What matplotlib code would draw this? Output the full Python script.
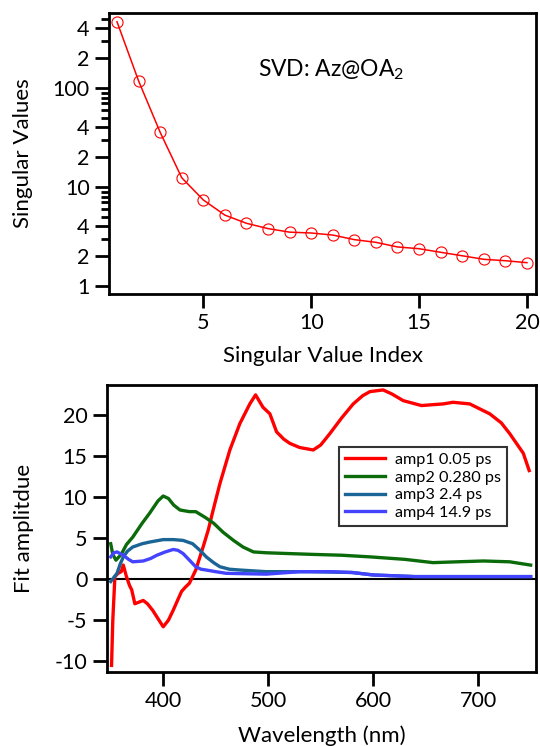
import numpy as np
import matplotlib
matplotlib.use('Agg')
import matplotlib.pyplot as plt
from matplotlib.ticker import FixedLocator, FixedFormatter, NullFormatter

plt.rcParams['font.family'] = ['Lato', 'DejaVu Sans']
plt.rcParams['axes.unicode_minus'] = False

# --- datos: valores singulares ---
sv_index = list(range(1, 21))
sv_values = [467, 118, 35.7, 12.4, 7.4, 5.2, 4.3, 3.8, 3.5, 3.43,
             3.27, 2.94, 2.76, 2.48, 2.38, 2.19, 2.02, 1.86, 1.80, 1.72]

# --- datos: amplitudes del ajuste ---
wl_amp1 = [350.8, 352, 354, 357, 360, 362, 365, 368, 370, 373, 377, 381, 385, 390,
           395, 400, 405, 409.5, 414, 417.5, 421, 425, 431, 438, 443, 447.6, 454,
           463.5, 473, 482.5, 488, 495, 501.6, 508, 515, 520.7, 530, 542.9, 550,
           558.8, 570, 581, 590, 597, 609.5, 618, 628.6, 646, 656, 666.7, 676, 692,
           711, 722, 730, 743, 748.6]
amp1 = [-10.5, -5.0, 0.3, 0.7, 0.9, 1.7, 0.3, -0.8, -1.3, -3.0, -2.8, -2.6, -3.0, -3.8,
        -4.8, -5.8, -5.0, -3.8, -2.5, -1.5, -1.0, -0.5, 1.1, 3.9, 6.0, 8.4, 11.6,
        15.7, 18.9, 21.3, 22.4, 20.9, 20.1, 17.9, 17.0, 16.5, 16.0, 15.7, 16.3,
        17.7, 19.6, 21.3, 22.3, 22.8, 23.0, 22.5, 21.7, 21.1, 21.2, 21.3, 21.5, 21.3,
        20.1, 19.0, 17.7, 15.3, 13.2]

wl_amp2 = [350, 352, 355, 360, 365, 371, 380, 387, 395, 400, 405, 410, 416, 425, 431,
           440, 448, 457, 467, 476, 486, 498, 520, 543, 570, 597, 630, 657, 680, 705,
           730, 750]
amp2 = [4.3, 3.0, 2.3, 3.0, 4.2, 5.1, 6.8, 8.0, 9.5, 10.1, 9.8, 9.0, 8.4, 8.2, 8.2,
        7.5, 6.8, 5.7, 4.7, 3.9, 3.3, 3.2, 3.1, 3.0, 2.9, 2.7, 2.4, 2.0, 2.1, 2.2,
        2.1, 1.7]

wl_amp3 = [350, 353, 356, 359, 362, 366, 371, 380, 387, 400, 410, 419, 428, 435, 441,
           448, 454, 463, 473, 498, 540, 580, 600, 640, 750]
amp3 = [-0.3, 0.2, 0.7, 1.8, 2.7, 3.4, 3.9, 4.3, 4.5, 4.8, 4.8, 4.7, 4.3, 3.5, 2.7,
        2.0, 1.5, 1.2, 1.1, 0.9, 0.9, 0.8, 0.5, 0.3, 0.3]

wl_amp4 = [350, 353, 356, 359, 362, 367, 371, 381, 388, 394, 402, 409.5, 414, 419,
           425, 431, 436, 441, 450, 460, 498, 530, 560, 580, 600, 640, 750]
amp4 = [2.7, 3.2, 3.3, 3.1, 2.9, 2.4, 2.1, 2.2, 2.5, 2.9, 3.3, 3.6, 3.5, 3.1,
        2.3, 1.5, 1.2, 1.1, 0.9, 0.7, 0.6, 0.9, 0.9, 0.8, 0.5, 0.3, 0.3]

etiquetas = ['amp1 0.05 ps', 'amp2 0.280 ps', 'amp3 2.4 ps', 'amp4 14.9 ps']
colores = ['#ff0000', '#0b6b0b', '#1a6496', '#4444ff']

fig = plt.figure(figsize=(5.4, 7.46), dpi=100)

# ---------- panel superior ----------
ax1 = fig.add_axes([0.2019, 0.6059, 0.7907, 0.3767])
ax1.plot(sv_index, sv_values, color='red', lw=1.1, marker='o', ms=8,
         mfc='none', mec='red', mew=0.8)
ax1.set_yscale('log')
ax1.set_xlim(0.63, 20.42)
ax1.set_ylim(0.83, 573)
ax1.yaxis.set_major_locator(FixedLocator([1, 2, 4, 10, 20, 40, 100, 200, 400]))
ax1.yaxis.set_major_formatter(FixedFormatter(['1', '2', '4', '10', '2', '4', '100', '2', '4']))
menores = [v * d for d in (1, 10, 100) for v in (3, 5, 6, 7, 8, 9)]
ax1.yaxis.set_minor_locator(FixedLocator(menores))
ax1.yaxis.set_minor_formatter(NullFormatter())
ax1.set_xticks([5, 10, 15, 20])
ax1.tick_params(axis='both', which='major', direction='out', length=10, width=2,
                labelsize=15.5, pad=4)
ax1.tick_params(axis='y', which='minor', direction='out', length=6, width=2)
ax1.set_xlabel('Singular Value Index', fontsize=16, labelpad=9)
ax1.set_ylabel('Singular Values', fontsize=16, labelpad=14)
ax1.text(0.349, 0.775, r'SVD: Az@OA$_\mathregular{2}$', transform=ax1.transAxes,
         fontsize=16.5)
for s in ax1.spines.values():
    s.set_linewidth(2)

# ---------- panel inferior ----------
ax2 = fig.add_axes([0.198, 0.0992, 0.7944, 0.3847])
ax2.axhline(0, color='black', lw=1.5, zorder=1)
series = [(wl_amp1, amp1), (wl_amp2, amp2), (wl_amp3, amp3), (wl_amp4, amp4)]
for (x, y), lab, c in zip(series, etiquetas, colores):
    ax2.plot(x, y, color=c, lw=2.4, label=lab)
ax2.set_xlim(346.4, 755)
ax2.set_ylim(-11.3, 23.6)
ax2.set_xticks([400, 500, 600, 700])
ax2.set_yticks([-10, -5, 0, 5, 10, 15, 20])
ax2.tick_params(axis='both', direction='out', length=10, width=2, labelsize=15.5, pad=4)
ax2.set_xlabel('Wavelength (nm)', fontsize=16, labelpad=10)
ax2.set_ylabel('Fit amplitdue', fontsize=16, labelpad=15)
for s in ax2.spines.values():
    s.set_linewidth(2)
leg = ax2.legend(loc='upper left', bbox_to_anchor=(0.541, 0.784), fontsize=11.7,
                 frameon=True, fancybox=False, handlelength=2.5, borderpad=0.35,
                 labelspacing=0.2, handletextpad=0.6, borderaxespad=0)
leg.get_frame().set_edgecolor('black')
leg.get_frame().set_linewidth(1.5)

fig.savefig('out.png', dpi=100)
